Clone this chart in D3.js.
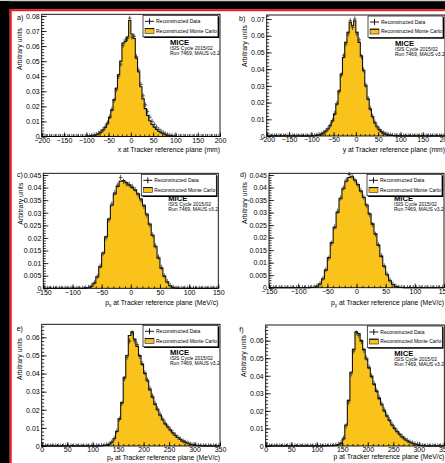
<!DOCTYPE html>
<html><head><meta charset="utf-8">
<script src="https://cdn.jsdelivr.net/npm/d3@7"></script>
<style>
html,body{margin:0;padding:0;background:#fff;}
svg{display:block;font-family:"Liberation Sans",Arial,sans-serif;}
</style></head><body>
<svg id="fig" width="445" height="463"></svg>
<script>
// tick values for the three kinds of x axis
var ticksPos = [-200, -150, -100, -50, 0, 50, 100, 150, 200];
var ticksMom = [-150, -100, -50, 0, 50, 100, 150];
var ticksTot = [0, 50, 100, 150, 200, 250, 300, 350];
var yTicksA = [0, 0.01, 0.02, 0.03, 0.04, 0.05, 0.06, 0.07, 0.08];
var yTicksB = [0, 0.01, 0.02, 0.03, 0.04, 0.05, 0.06, 0.07];
var yTicksC = [0, 0.005, 0.01, 0.015, 0.02, 0.025, 0.03, 0.035, 0.04, 0.045];
var yTicksE = [0, 0.01, 0.02, 0.03, 0.04, 0.05, 0.06];

// a) x, 5 mm bins from -200 to 200
var xMC = [
  0, 0, 0, 0, 0, 0, 0, 0, 0, 0, 0, 0, 0, 0, 0, 0, 0, 0, 0, 0,
  .0002, .0003, .0005, .0008, .0012, .0018, .0028, .0042, .0060, .0085,
  .0125, .0175, .0245, .0320, .0410, .0500, .0620, .0630, .0660, .0770,
  .0680, .0650, .0520, .0430, .0330, .0250, .0185, .0140, .0105, .0080,
  .0062, .0047, .0035, .0025, .0018, .0012, .0008, .0005, .0003, .0002,
  0, 0, 0, 0, 0, 0, 0, 0, 0, 0, 0, 0, 0, 0, 0, 0, 0, 0, 0, 0
];
var xData = [
  0, 0, 0, 0, 0, 0, 0, 0, 0, 0, 0, 0, 0, 0, 0, 0, 0, 0, 0, 0,
  .0002, .0003, .0006, .0009, .0013, .0020, .0030, .0045, .0064, .0090,
  .0130, .0180, .0240, .0310, .0400, .0480, .0605, .0640, .0650, .0785,
  .0660, .0665, .0530, .0440, .0345, .0270, .0210, .0165, .0128, .0100,
  .0080, .0062, .0047, .0035, .0025, .0017, .0011, .0007, .0004, .0002,
  0, 0, 0, 0, 0, 0, 0, 0, 0, 0, 0, 0, 0, 0, 0, 0, 0, 0, 0, 0
];

// b) y, 5 mm bins from -200 to 200
var yMC = [
  0, 0, 0, 0, 0, 0, 0, 0, 0, 0, 0, 0, 0, 0, 0, 0, 0, 0, 0, 0,
  .0001, .0002, .0004, .0007, .0011, .0018, .0028, .0042, .0062, .0090,
  .0130, .0190, .0270, .0370, .0470, .0560, .0620, .0680, .0660, .0690,
  .0620, .0560, .0480, .0390, .0300, .0220, .0160, .0115, .0080, .0055,
  .0038, .0026, .0017, .0011, .0007, .0004, .0003, .0002, .0001, .0001,
  0, 0, 0, 0, 0, 0, 0, 0, 0, 0, 0, 0, 0, 0, 0, 0, 0, 0, 0, 0
];
var yData = [
  0, 0, 0, 0, 0, 0, 0, 0, 0, 0, 0, 0, 0, 0, 0, 0, 0, 0, 0, 0,
  .0001, .0002, .0004, .0008, .0012, .0019, .0029, .0044, .0065, .0092,
  .0135, .0195, .0265, .0365, .0480, .0550, .0610, .0690, .0650, .0700,
  .0610, .0575, .0475, .0395, .0305, .0225, .0165, .0118, .0083, .0058,
  .0040, .0027, .0018, .0012, .0008, .0005, .0003, .0002, .0001, .0001,
  0, 0, 0, 0, 0, 0, 0, 0, 0, 0, 0, 0, 0, 0, 0, 0, 0, 0, 0, 0
];

// c) px, 5 MeV/c bins from -150 to 150
var pxMC = [
  0, 0, 0, 0, 0, 0, 0, 0, 0, 0, 0, 0, 0, 0,
  .0001, .0003, .0008, .0020, .0045, .0085, .0140, .0205, .0275, .0330,
  .0375, .0405, .0425, .0428, .0420, .0410, .0400, .0390, .0375, .0355,
  .0330, .0295, .0255, .0210, .0165, .0120, .0080, .0048, .0025, .0010,
  .0004, .0001,
  0, 0, 0, 0, 0, 0, 0, 0, 0, 0, 0, 0, 0, 0
];
var pxData = [
  0, 0, 0, 0, 0, 0, 0, 0, 0, 0, 0, 0, 0, 0,
  .0001, .0003, .0009, .0022, .0047, .0088, .0138, .0200, .0272, .0335,
  .0380, .0410, .0440, .0425, .0415, .0412, .0405, .0392, .0372, .0350,
  .0325, .0290, .0252, .0212, .0168, .0124, .0083, .0050, .0027, .0011,
  .0004, .0001,
  0, 0, 0, 0, 0, 0, 0, 0, 0, 0, 0, 0, 0, 0
];

// d) py, 5 MeV/c bins from -150 to 150
var pyMC = [
  0, 0, 0, 0, 0, 0, 0, 0, 0, 0, 0, 0, 0, 0,
  .0001, .0002, .0006, .0015, .0035, .0070, .0120, .0180, .0240, .0300,
  .0355, .0395, .0425, .0440, .0443, .0430, .0412, .0385, .0360, .0330,
  .0295, .0255, .0215, .0170, .0125, .0085, .0052, .0028, .0013, .0005,
  .0002, .0001,
  0, 0, 0, 0, 0, 0, 0, 0, 0, 0, 0, 0, 0, 0
];
var pyData = [
  0, 0, 0, 0, 0, 0, 0, 0, 0, 0, 0, 0, 0, 0,
  .0001, .0002, .0007, .0016, .0037, .0072, .0118, .0178, .0243, .0305,
  .0358, .0398, .0430, .0452, .0445, .0428, .0410, .0388, .0362, .0328,
  .0292, .0252, .0213, .0172, .0128, .0087, .0054, .0030, .0014, .0006,
  .0002, .0001,
  0, 0, 0, 0, 0, 0, 0, 0, 0, 0, 0, 0, 0, 0
];

// e) pz, 5 MeV/c bins from 0 to 350
var pzMC = [
  0, 0, 0, 0, 0, 0, 0, 0, 0, 0, 0, 0, 0, 0, 0, 0, 0, 0, 0, 0, 0, 0,
  .0001, .0002, .0003, .0005, .0010, .0020, .0040, .0080, .0150, .0240,
  .0380, .0500, .0610, .0630, .0590, .0550, .0500, .0450, .0400, .0360,
  .0310, .0270, .0230, .0200, .0170, .0145, .0122, .0105, .0088, .0072,
  .0058, .0047, .0036, .0027, .0020, .0015, .0010, .0006, .0004, .0002,
  .0001,
  0, 0, 0, 0, 0, 0, 0
];
var pzData = [
  0, 0, 0, 0, 0, 0, 0, 0, 0, 0, 0, 0, 0, 0, 0, 0, 0, 0, 0, 0, 0, 0,
  .0001, .0002, .0003, .0006, .0011, .0021, .0042, .0082, .0148, .0235,
  .0372, .0490, .0580, .0625, .0580, .0560, .0495, .0455, .0405, .0365,
  .0318, .0276, .0236, .0205, .0175, .0149, .0126, .0108, .0090, .0074,
  .0060, .0048, .0037, .0028, .0021, .0015, .0010, .0006, .0004, .0002,
  .0001,
  0, 0, 0, 0, 0, 0, 0
];

// f) p, 5 MeV/c bins from 0 to 350
var pMC = [
  0, 0, 0, 0, 0, 0, 0, 0, 0, 0, 0, 0, 0, 0, 0, 0, 0, 0, 0, 0, 0, 0,
  0, .0001, .0001, .0001, .0002, .0004, .0008, .0015, .0040, .0120,
  .0260, .0420, .0550, .0650, .0640, .0600, .0550, .0495, .0445, .0395,
  .0350, .0310, .0270, .0235, .0200, .0170, .0145, .0120, .0100, .0082,
  .0066, .0052, .0040, .0030, .0022, .0016, .0011, .0007, .0004, .0002,
  .0001,
  0, 0, 0, 0, 0, 0, 0
];
var pData = [
  0, 0, 0, 0, 0, 0, 0, 0, 0, 0, 0, 0, 0, 0, 0, 0, 0, 0, 0, 0, 0, 0,
  0, .0001, .0001, .0002, .0003, .0005, .0009, .0017, .0045, .0115,
  .0250, .0410, .0540, .0645, .0630, .0595, .0545, .0500, .0450, .0400,
  .0356, .0316, .0276, .0240, .0205, .0175, .0149, .0124, .0103, .0085,
  .0068, .0054, .0042, .0032, .0023, .0017, .0012, .0007, .0004, .0002,
  .0001,
  0, 0, 0, 0, 0, 0, 0
];

var legendLabels = ['Reconstructed Data', 'Reconstructed Monte Carlo'];
var infoLines = ['ISIS Cycle 2015/02', 'Run 7469, MAUS v3.2'];

var fillColor = '#f9c31c';

// frame = [left, right, top, bottom] in px
var panels = [
  { tag: 'a)', mc: xMC, data: xData, lo: -200, w: 5, xTicks: ticksPos, yTicks: yTicksA, yMax: 0.0811, minorY: 0.002,
    frame: [41.7, 220, 14.3, 136.5], tagPos: [17, 19.5], yTitle: [22, 28], xTitle: 152, mice: 30.7,
    title: [['x at Tracker reference plane (mm)']] },
  { tag: 'b)', mc: yMC, data: yData, lo: -200, w: 5, xTicks: ticksPos, yTicks: yTicksB, yMax: 0.0724, minorY: 0.002,
    frame: [266.7, 445, 15, 136], tagPos: [239, 20.5], yTitle: [247, 25], xTitle: 152, mice: 30.7,
    title: [['y at Tracker reference plane (mm)']] },
  { tag: 'c)', mc: pxMC, data: pxData, lo: -150, w: 5, xTicks: ticksMom, yTicks: yTicksC, yMax: 0.04568, minorY: 0.001,
    frame: [43.3, 218.3, 173.3, 288.3], tagPos: [17, 177.3], yTitle: [22.5, 182.7], xTitle: 305, mice: 28,
    title: [['p'], ['x', 1], [' at Tracker reference plane (MeV/c)']] },
  { tag: 'd)', mc: pyMC, data: pyData, lo: -150, w: 5, xTicks: ticksMom, yTicks: yTicksC, yMax: 0.04568, minorY: 0.001,
    frame: [269, 444, 173.3, 287.7], tagPos: [240, 176.7], yTitle: [247, 182], xTitle: 305, mice: 28,
    title: [['p'], ['y', 1], [' at Tracker reference plane (MeV/c)']] },
  { tag: 'e)', mc: pzMC, data: pzData, lo: 0, w: 5, xTicks: ticksTot, yTicks: yTicksE, yMax: 0.0672, minorY: 0.002,
    frame: [41.7, 220, 324.3, 446], tagPos: [16.7, 330.7], yTitle: [22, 338], xTitle: 459.5, mice: 30.7,
    title: [['p'], ['z', 1], ['  at Tracker reference plane (MeV/c)']] },
  { tag: 'f)', mc: pMC, data: pData, lo: 0, w: 5, xTicks: ticksTot, yTicks: yTicksE, yMax: 0.0689, minorY: 0.002,
    frame: [265.7, 444.3, 325, 446], tagPos: [239.3, 332.3], yTitle: [246, 335], xTitle: 459, mice: 30.7,
    title: [['p at Tracker reference plane (MeV/c)']] }
];

var svg = d3.select('#fig');

// window decoration around the page
svg.append('rect').attr('x', 0).attr('y', 0).attr('width', 445).attr('height', 1.2).attr('fill', '#cfcfcf');
svg.append('rect').attr('x', 0).attr('y', 1.2).attr('width', 445).attr('height', 8).attr('fill', '#000');
svg.append('rect').attr('x', 0).attr('y', 1.2).attr('width', 9.7).attr('height', 462).attr('fill', '#000');
svg.append('rect').attr('x', 9.7).attr('y', 9.2).attr('width', 436).attr('height', 2).attr('fill', '#f21616');
svg.append('rect').attr('x', 9.7).attr('y', 9.2).attr('width', 2).attr('height', 454).attr('fill', '#f21616');

var fmtY = d3.format('~g');

panels.forEach(function (p) {
  var L = p.frame[0], R = p.frame[1], T = p.frame[2], B = p.frame[3];
  var n = p.mc.length;
  var x = d3.scaleLinear().domain([p.lo, p.lo + n * p.w]).range([L, R]);
  var y = d3.scaleLinear().domain([0, p.yMax]).range([B, T]);
  var g = svg.append('g');

  // MC histogram, filled step
  var steps = [];
  p.mc.forEach(function (v, i) {
    steps.push([p.lo + i * p.w, v]);
    steps.push([p.lo + (i + 1) * p.w, v]);
  });
  var area = d3.area().x(d => x(d[0])).y0(y(0)).y1(d => y(d[1]));
  var line = d3.line().x(d => x(d[0])).y(d => y(d[1]));
  g.append('path').attr('d', area(steps)).attr('fill', fillColor);
  g.append('path').attr('d', line(steps)).attr('fill', 'none').attr('stroke', '#111').attr('stroke-width', 1.1);

  // data points: bin-width bar plus a small cross
  var pts = g.append('g').attr('stroke', '#2a2a2a').attr('stroke-width', 0.75);
  p.data.forEach(function (v, i) {
    var x0 = x(p.lo + i * p.w), x1 = x(p.lo + (i + 1) * p.w), cx = (x0 + x1) / 2, cy = y(v);
    pts.append('line').attr('x1', Math.min(x0, cx - 1.8)).attr('x2', Math.max(x1, cx + 1.8)).attr('y1', cy).attr('y2', cy);
    pts.append('line').attr('x1', cx).attr('x2', cx).attr('y1', cy - 2.6).attr('y2', Math.min(cy + 2.6, B));
  });

  // axes with inward ticks
  var minorX = d3.range(p.xTicks[0], p.xTicks[p.xTicks.length - 1] + 0.1, 10);
  var minorYv = d3.range(0, p.yMax, p.minorY);
  g.append('g').attr('transform', 'translate(0,' + B + ')')
    .call(d3.axisBottom(x).tickValues(p.xTicks).tickSize(-4).tickSizeOuter(0).tickPadding(1.4).tickFormat(d3.format('')));
  g.append('g').attr('transform', 'translate(0,' + B + ')')
    .call(d3.axisBottom(x).tickValues(minorX).tickSize(-2).tickSizeOuter(0).tickFormat(''));
  g.append('g').attr('transform', 'translate(' + L + ',0)')
    .call(d3.axisLeft(y).tickValues(p.yTicks).tickSize(-5).tickSizeOuter(0).tickPadding(2).tickFormat(d => d === 0 ? '0' : fmtY(d)));
  g.append('g').attr('transform', 'translate(' + L + ',0)')
    .call(d3.axisLeft(y).tickValues(minorYv).tickSize(-2.5).tickSizeOuter(0).tickFormat(''));
  g.selectAll('.domain').remove();
  g.selectAll('.tick line').attr('stroke', '#000').attr('stroke-width', 0.8);
  g.selectAll('.tick text').attr('font-size', 7).attr('font-family', '"Liberation Sans", Arial, sans-serif').attr('fill', '#000');

  g.append('rect').attr('x', L).attr('y', T).attr('width', R - L).attr('height', B - T)
    .attr('fill', 'none').attr('stroke', '#000').attr('stroke-width', 0.9);

  // titles
  g.append('text').attr('x', p.tagPos[0]).attr('y', p.tagPos[1]).attr('font-size', 7).text(p.tag);
  g.append('text').attr('transform', 'translate(' + p.yTitle[0] + ',' + p.yTitle[1] + ') rotate(-90)')
    .attr('text-anchor', 'end').attr('font-size', 6.8).text('Arbitrary units');
  var xt = g.append('text').attr('x', R).attr('y', p.xTitle).attr('text-anchor', 'end').attr('font-size', 6.8);
  p.title.forEach(function (part) {
    var ts = xt.append('tspan').text(part[0]);
    if (part[1]) ts.attr('font-size', 4.8).attr('dy', 1.6);
    else if (xt.selectAll('tspan').size() > 1) ts.attr('dy', -1.6);
  });

  // legend
  var lx = R - 77, ly = T + 1, lw = 75, lh = 21.5;
  g.append('rect').attr('x', lx + 1.2).attr('y', ly + 1.2).attr('width', lw).attr('height', lh).attr('fill', '#000');
  g.append('rect').attr('x', lx).attr('y', ly).attr('width', lw).attr('height', lh)
    .attr('fill', '#fff').attr('stroke', '#000').attr('stroke-width', 0.7);
  var e1 = ly + 6, e2 = ly + 15.5;
  g.append('line').attr('x1', lx + 2).attr('x2', lx + 11).attr('y1', e1).attr('y2', e1).attr('stroke', '#000').attr('stroke-width', 0.9);
  g.append('line').attr('x1', lx + 6.5).attr('x2', lx + 6.5).attr('y1', e1 - 3).attr('y2', e1 + 3).attr('stroke', '#000').attr('stroke-width', 0.9);
  g.append('rect').attr('x', lx + 2).attr('y', e2 - 2.5).attr('width', 9).attr('height', 5)
    .attr('fill', fillColor).attr('stroke', '#222').attr('stroke-width', 0.6);
  g.append('line').attr('x1', lx + 2).attr('x2', lx + 11).attr('y1', e2 - 2.2).attr('y2', e2 - 2.2).attr('stroke', '#000').attr('stroke-width', 0.9);
  g.append('text').attr('x', lx + 13).attr('y', e1 + 1.8).attr('font-size', 5).text(legendLabels[0]);
  g.append('text').attr('x', lx + 13).attr('y', e2 + 1.8).attr('font-size', 5).text(legendLabels[1]);

  // experiment label
  var mx = R - 50, my = T + p.mice;
  g.append('text').attr('x', mx).attr('y', my).attr('font-size', 7.6).attr('font-weight', 'bold').text('MICE');
  g.append('text').attr('x', mx).attr('y', my + 5).attr('font-size', 5).text(infoLines[0]);
  g.append('text').attr('x', mx).attr('y', my + 10).attr('font-size', 5).text(infoLines[1]);
});
</script>
</body></html>
